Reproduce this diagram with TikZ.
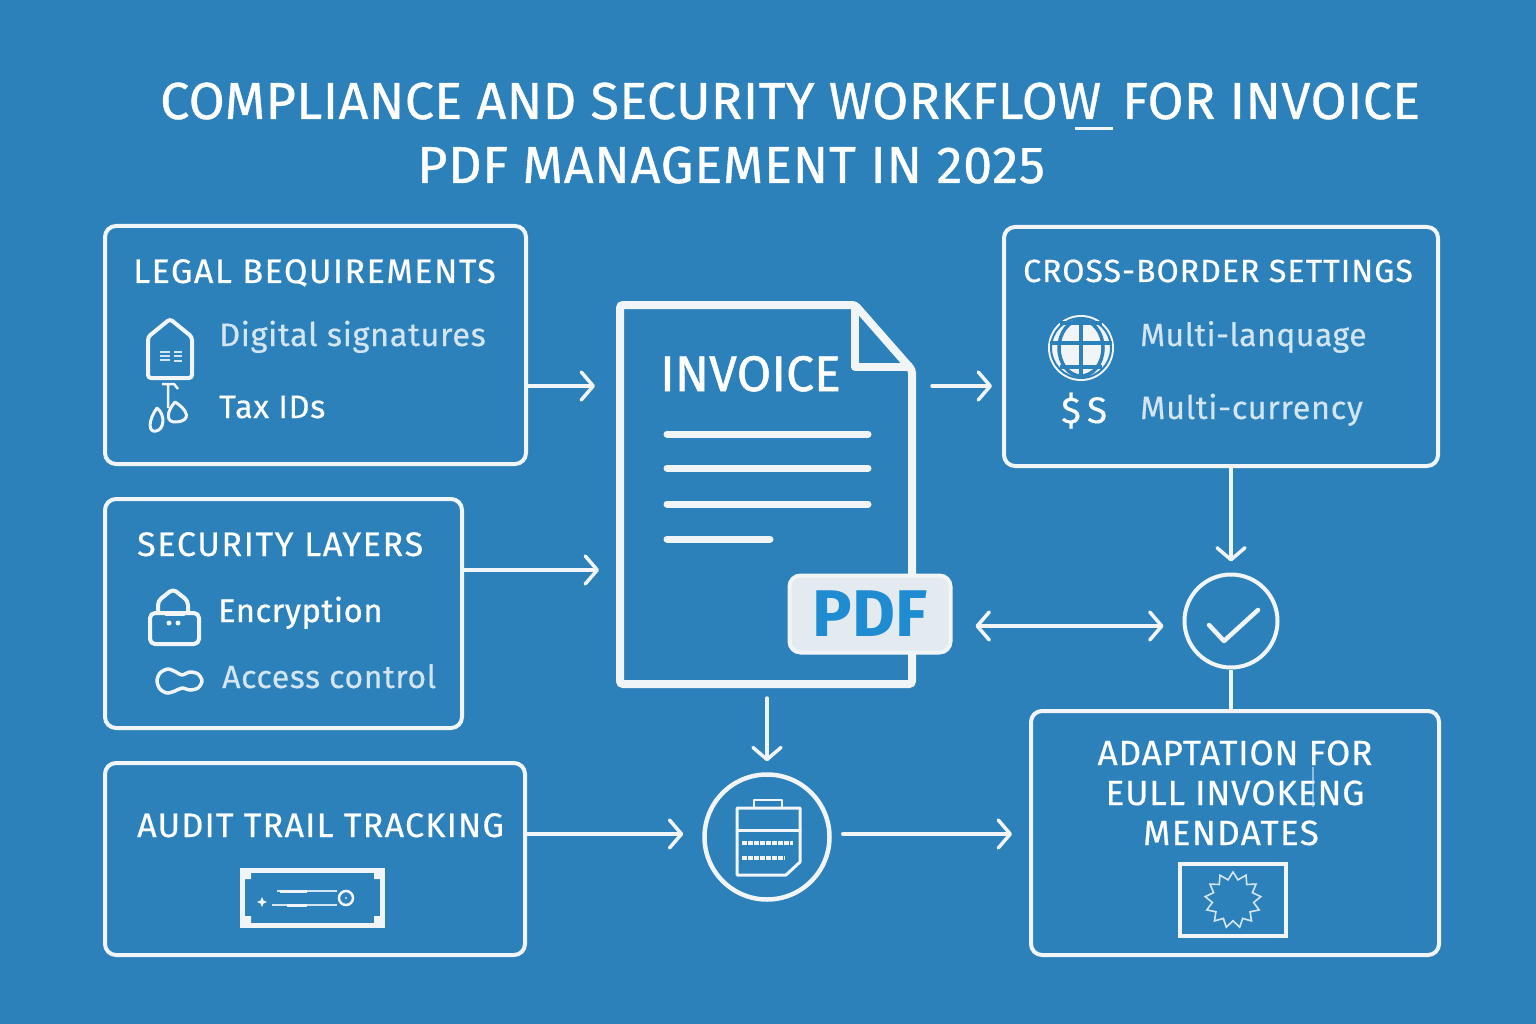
\documentclass[tikz,border=0pt]{standalone}
\usepackage{fontspec}
\setmainfont{Fira Sans}
\usetikzlibrary{arrows.meta,shapes.geometric}
\definecolor{bgblue}{HTML}{2C81BB}
\definecolor{linewhite}{HTML}{F1F5F7}
\definecolor{softtext}{HTML}{D3E5F1}
\definecolor{pdfblue}{HTML}{1F8BD0}
\definecolor{pdffill}{HTML}{E3EBF1}
\tikzset{
    panel/.style={draw=linewhite,line width=4pt,rounded corners=11pt,inner sep=0pt},
    flow/.style={draw=linewhite,line width=3.5pt,line cap=round,-{Straight Barb[length=12pt,width=28pt,round]}},
    plainline/.style={draw=linewhite,line width=3.5pt},
    icon/.style={draw=linewhite,line width=3.5pt,line join=round,line cap=round},
    heading/.style={anchor=base west,inner sep=0pt,text=white,font=\fontsize{34}{34}\selectfont\addfontfeature{LetterSpace=4.5,FakeBold=.6}},
    itemtext/.style={anchor=base west,inner sep=0pt,text=white,font=\fontsize{32.5}{32.5}\selectfont\addfontfeature{LetterSpace=2,FakeBold=.4}},
    softitem/.style={itemtext,text=softtext},
    titletext/.style={anchor=base west,inner sep=0pt,text=white,font=\fontsize{52}{52}\selectfont\addfontfeature{LetterSpace=.9,FakeBold=.7}},
    adapttext/.style={anchor=base,inner sep=0pt,text=white,font=\fontsize{35}{35}\selectfont\addfontfeature{LetterSpace=2.5,FakeBold=.5}},
}
\begin{document}
\begin{tikzpicture}[x=1pt,y=-1pt]
    \fill[bgblue] (0,0) rectangle (1536,1024);
    \node (title1) at (160,119) [titletext] {COMPLIANCE AND SECURITY WORKFLOW\hspace{7pt} FOR INVOICE};
    \node (title2) at (417,183) [titletext,font=\fontsize{52}{52}\selectfont\addfontfeature{LetterSpace=1.5,FakeBold=.7}] {PDF MANAGEMENT IN 2025};
    \draw[linewhite,line width=3pt] (1075,129) -- (1113,129);

    \node (legal) at (315.5,345) [panel,minimum width=421pt,minimum height=238pt] {};
    \node (security) at (283.5,613.5) [panel,minimum width=357pt,minimum height=229pt] {};
    \node (audit) at (315,859) [panel,minimum width=420pt,minimum height=192pt] {};
    \node (cross) at (1221,346.5) [panel,minimum width=434pt,minimum height=239pt] {};
    \node (adapt) at (1235,833) [panel,minimum width=408pt,minimum height=244pt] {};

    \node (legalhead) at (133,283) [heading] {LEGAL BEQUIREMENTS};
    \node (digital) at (219,346) [softitem] {Digital signatures};
    \node (taxids) at (219,418) [itemtext] {Tax IDs};
    \node (sechead) at (137,556) [heading,font=\fontsize{34}{34}\selectfont\addfontfeature{LetterSpace=5,FakeBold=.6}] {SECURITY LAYERS};
    \node (encrypt) at (218,622) [itemtext,font=\fontsize{32.5}{32.5}\selectfont\addfontfeature{LetterSpace=2,FakeBold=.9}] {Encryption};
    \node (access) at (222,688) [softitem,font=\fontsize{32}{32}\selectfont\addfontfeature{LetterSpace=2,FakeBold=.4}] {Access control};
    \node (audithead) at (137,837) [heading,font=\fontsize{34}{34}\selectfont\addfontfeature{LetterSpace=3.8,FakeBold=.6}] {AUDIT TRAIL TRACKING};
    \node (crosshead) at (1023,282) [heading,font=\fontsize{32}{32}\selectfont\addfontfeature{LetterSpace=3.3,FakeBold=.6}] {CROSS-BORDER SETTINGS};
    \node (language) at (1140,346) [softitem,font=\fontsize{32}{32}\selectfont\addfontfeature{LetterSpace=1.5,FakeBold=.4}] {Multi-lanquage};
    \node (currency) at (1140,419) [softitem] {Multi-currency};
    \node (dollar) at (1061,423) [itemtext,font=\fontsize{37}{37}\selectfont\addfontfeature{LetterSpace=2,FakeBold=.3}] {\$\,S};
    \node (adapt1) at (1235,765) [adapttext] {ADAPTATION FOR};
    \node (adapt2) at (1235,805) [adapttext] {EULL INVOKENG};
    \node (adapt3) at (1231,845) [adapttext,font=\fontsize{35}{35}\selectfont\addfontfeature{LetterSpace=4,FakeBold=.5}] {MENDATES};
    \draw[softtext,line width=2pt,opacity=.6] (1313,767) -- (1313,807);

    \node (doc) at (766,494.5) [minimum width=292pt,minimum height=379pt,inner sep=0pt,outer sep=0pt] {};
    \draw[linewhite,line width=8pt,rounded corners=3pt] (620,305) -- (855,305) -- (912,370) -- (912,684) -- (620,684) -- cycle;
    \draw[linewhite,line width=8pt,line join=round] (855,305) -- (855,367) -- (912,367);
    \node (invoice) at (660,391) [anchor=base west,inner sep=0pt,text=white,font=\fontsize{50}{50}\selectfont\addfontfeature{FakeBold=1}] {INVOICE};
    \foreach \y/\xend in {434/868,468/868,504/868,539/770}
        \draw[linewhite,line width=7pt,line cap=round] (667,\y) -- (\xend,\y);
    \node (pdf) at (870,614) [draw=linewhite,fill=pdffill,line width=4pt,rounded corners=11pt,minimum width=161pt,minimum height=77pt,text=pdfblue,inner sep=0pt,font=\fontsize{66}{66}\selectfont\bfseries] {PDF};

    \node (check) at (1231,621) [circle,draw=linewhite,line width=4pt,minimum size=93pt,inner sep=0pt] {};
    \draw[linewhite,line width=4.5pt,line cap=round,line join=round] (1209,625) -- (1224,641) -- (1258,610);
    \node (auditc) at (767,837) [circle,draw=linewhite,line width=4.5pt,minimum size=125pt,inner sep=0pt] {};

    \coordinate (legalport) at (560,386);
    \coordinate (secport) at (530,570);
    \coordinate (crossport) at (960,386);
    \coordinate (pdfport) at (1070,626);
    \coordinate (auditport) at (600,834);
    \draw[flow,shorten >=25pt] (legalport -| legal.east) -- (legalport -| doc.west);
    \draw[flow,shorten >=21pt] (secport -| security.east) -- (secport -| doc.west);
    \draw[flow,shorten <=20pt,shorten >=10pt] (crossport -| doc.east) -- (crossport -| cross.west);
    \draw[flow,shorten >=11pt] (check |- cross.south) -- (check.north);
    \draw[plainline] (check.south) -- (check.south |- adapt.north);
    \draw[flow,{Straight Barb[length=12pt,width=28pt,round]}-{Straight Barb[length=12pt,width=28pt,round]},shorten <=23pt,shorten >=19pt] (pdfport -| pdf.east) -- (pdfport -| check.west);
    \draw[flow,shorten <=14pt,shorten >=11pt] (auditc |- doc.south) -- (auditc.north);
    \draw[flow,shorten >=19pt] (auditport -| audit.east) -- (auditport -| auditc.west);
    \draw[flow,shorten <=11pt,shorten >=17pt] (auditport -| auditc.east) -- (auditport -| adapt.west);

    \draw[icon,line width=4pt,rounded corners=3pt] (170,319) -- (192,337) -- (192,378) -- (148,378) -- (148,337) -- cycle;
    \draw[softtext,line width=1.8pt] (160,352) -- (170,352) (160,356) -- (170,356) (160,360) -- (170,360) (174,352) -- (182,352) (174,356) -- (182,356) (174,361) -- (182,361);
    \draw[linewhite,line width=2.5pt] (168,384) -- (168,408) (162,384) -- (174,384) -- (178,389);
    \draw[icon,line width=3pt] (157,408) .. controls (148,420) and (148,433) .. (156,431) .. controls (164,430) and (166,415) .. (157,408);
    \draw[icon,line width=3pt] (175,402) .. controls (166,412) and (166,423) .. (176,422) .. controls (192,421) and (188,410) .. (175,402);

    \draw[icon,line width=4pt,rounded corners=5pt] (150,613) rectangle (199,644);
    \draw[icon,line width=4pt,rounded corners=4pt] (158,613) -- (158,601) -- (173,589) -- (188,601) -- (188,613);
    \draw[icon] (166,614) -- (184,614);
    \fill[linewhite] (169,623) circle (2.5pt) (178,623) circle (2.5pt);
    \draw[icon] plot[smooth cycle] coordinates {(157,681) (160,673) (168,669) (176,672) (182,675) (190,672) (198,674) (202,681) (198,688) (190,690) (182,688) (175,691) (167,693) (160,689)};

    \fill[linewhite] (1081,348) circle (33pt);
    \begin{scope}[bgblue,line width=3.5pt]
        \draw (1081,319) -- (1081,377);
        \draw (1050,343) -- (1112,343);
        \draw (1060,323) -- (1102,323);
        \draw (1060,367) -- (1102,367);
        \draw (1081,348) ellipse (22pt and 28pt);
        \draw[line width=2pt] (1081,348) ellipse (30pt and 30pt);
    \end{scope}

    \draw[linewhite,line width=5pt] (242.5,870.5) rectangle (382.5,925);
    \fill[linewhite] (244,872) rectangle (251,879) (374,872) rectangle (381,879) (244,916) rectangle (251,923) (374,916) rectangle (381,923);
    \draw[softtext,line width=1.2pt] (277,891) -- (337,891) (272,905) -- (337,905);
    \draw[linewhite,line width=3pt] (280,891) -- (307,891) (287,905) -- (307,905);
    \draw[linewhite,line width=2.5pt] (346,898) circle (7pt);
    \fill[softtext] (346,898) circle (1.2pt);
    \fill[linewhite] (262,897) -- (263.5,900.5) -- (267,902) -- (263.5,903.5) -- (262,907) -- (260.5,903.5) -- (257,902) -- (260.5,900.5) -- cycle;

    \draw[icon,line width=3pt] (737,812) -- (737,875) -- (786,875) -- (800,862) -- (800,808) -- (737,808) -- cycle;
    \draw[icon,line width=2pt] (754,808) -- (754,800) -- (782,800) -- (782,808);
    \draw[icon,line width=3pt] (737,830) -- (800,830);
    \draw[linewhite,line width=3.5pt,dash pattern=on 4.5pt off 1.5pt] (742,843) -- (793,843);
    \draw[linewhite,line width=3.5pt,dash pattern=on 4.5pt off 1.5pt] (742,858) -- (785,858);

    \draw[linewhite,line width=3.5pt] (1180,864) rectangle (1286,936);
    \node (burst) at (1233,900) [star,star points=13,star point ratio=1.35,minimum size=56pt,draw=softtext,line width=1.6pt,inner sep=0pt] {};
\end{tikzpicture}
\end{document}
